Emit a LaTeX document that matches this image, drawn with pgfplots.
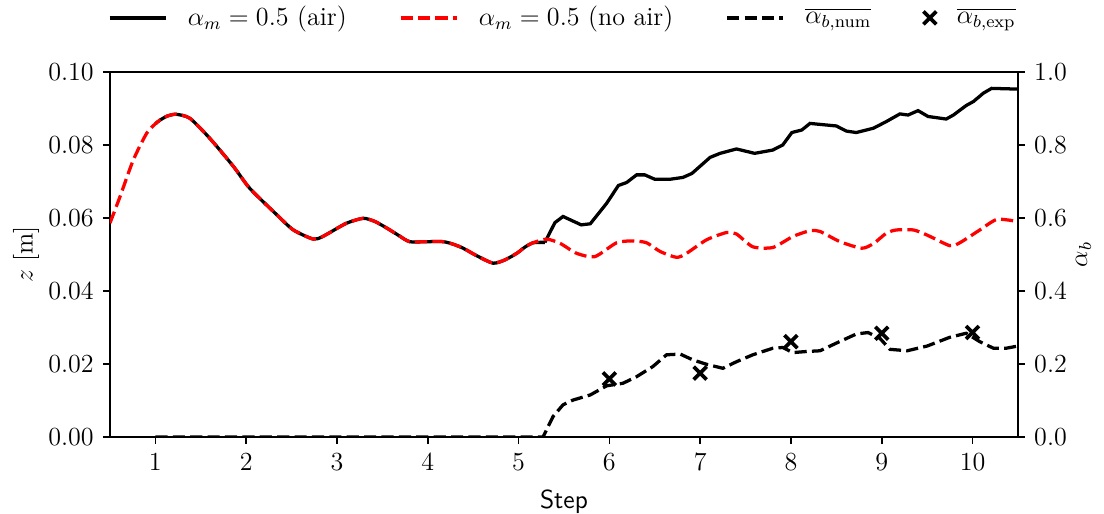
\documentclass[12pt,border=0pt]{standalone}
\usepackage{pgfplots}
\pgfplotsset{compat=1.18}

\pgfplotsset{
  common/.style={
    scale only axis,
    width=417.7pt, height=167.9pt,
    xmin=0.5, xmax=10.5,
    tick align=outside,
    major tick length=3.3pt,
    every tick/.style={black, line width=0.7pt},
    axis line style={line width=0.7pt},
  },
  dashed line/.style={dash pattern=on 5.6pt off 2.4pt},
  lineleg/.style={legend image code/.code={\draw[##1] (0pt,0pt) -- (25.8pt,0pt);}},
  markleg/.style={legend image code/.code={\draw[mark repeat=2,mark phase=2,##1] plot coordinates {(0pt,0pt)(12.9pt,0pt)(25.8pt,0pt)};}},
}

\begin{document}
\begin{tikzpicture}
\path[use as bounding box] (-50.6pt,-35.4pt) rectangle (457.3pt,201pt);

\begin{axis}[
    common,
    ymin=0, ymax=0.1,
    xtick={1,2,3,4,5,6,7,8,9,10},
    ytick={0,0.02,0.04,0.06,0.08,0.1},
    xtick pos=bottom, ytick pos=left,
    yticklabel style={/pgf/number format/.cd, fixed, fixed zerofill, precision=2},
    xlabel={\textsf{Step}},
    xlabel style={yshift=-1pt},
    ylabel={$z$ [m]},
    ylabel style={yshift=-4pt},
]
% alpha_m = 0.5 (air), part shared with the no-air run
\addplot[black, line width=1.5pt, smooth, tension=0.4] coordinates {
  (1.0,0.0858) (1.05,0.0868) (1.13,0.0879) (1.227,0.0884) (1.38,0.0873)
  (1.6,0.0818) (1.86,0.0741) (2.04,0.0681) (2.34,0.0608) (2.52,0.0567)
  (2.74,0.0542) (2.85,0.0550) (3.1,0.0585) (3.29,0.0599) (3.42,0.0590)
  (3.55,0.0572) (3.68,0.0552) (3.80,0.0535) (4.0,0.0535) (4.17,0.0535)
  (4.28,0.0528) (4.39,0.0517) (4.55,0.0495) (4.72,0.0476) (4.85,0.0485)
  (4.98,0.0503) (5.07,0.0520) (5.16,0.0532) (5.29,0.0533)
};
\addplot[black, line width=1.5pt] coordinates {
  (5.29,0.0533) (5.40,0.0587) (5.49,0.0604) (5.69,0.0581) (5.79,0.0584)
  (5.97,0.0640) (6.10,0.0689) (6.19,0.0697) (6.30,0.0718) (6.39,0.0718)
  (6.50,0.0706) (6.67,0.0706) (6.81,0.0711) (6.91,0.0722) (7.11,0.0766)
  (7.22,0.0777) (7.40,0.0789) (7.60,0.0777) (7.80,0.0786) (7.91,0.0800)
  (8.01,0.0834) (8.12,0.0841) (8.21,0.0859) (8.50,0.0852) (8.61,0.0838)
  (8.72,0.0834) (8.91,0.0846) (9.05,0.0864) (9.20,0.0885) (9.29,0.0882)
  (9.40,0.0894) (9.51,0.0878) (9.71,0.0871) (9.79,0.0882) (9.93,0.0908)
  (10.01,0.0919) (10.12,0.0942) (10.21,0.0955) (10.50,0.0953)
};
% alpha_m = 0.5 (no air)
\addplot[red, line width=1.5pt, dashed line, smooth, tension=0.4] coordinates {
  (0.5,0.0586) (0.61,0.0658) (0.757,0.0759) (0.904,0.0832) (1.0,0.0858)
  (1.05,0.0868) (1.13,0.0879) (1.227,0.0884) (1.38,0.0873)
  (1.6,0.0818) (1.86,0.0741) (2.04,0.0681) (2.34,0.0608) (2.52,0.0567)
  (2.74,0.0542) (2.85,0.0550) (3.1,0.0585) (3.29,0.0599) (3.42,0.0590)
  (3.55,0.0572) (3.68,0.0552) (3.80,0.0535) (4.0,0.0535) (4.17,0.0535)
  (4.28,0.0528) (4.39,0.0517) (4.55,0.0495) (4.72,0.0476) (4.85,0.0485)
  (4.98,0.0503) (5.07,0.0520) (5.16,0.0532) (5.31,0.0542) (5.46,0.0530)
  (5.64,0.0503) (5.84,0.0494) (6.08,0.0532) (6.26,0.0537) (6.41,0.0532)
  (6.56,0.0508) (6.74,0.0492) (6.85,0.0503) (7.07,0.0540) (7.29,0.0560)
  (7.40,0.0556) (7.58,0.0521) (7.80,0.0519) (8.02,0.0549) (8.21,0.0565)
  (8.32,0.0563) (8.54,0.0535) (8.78,0.0517) (8.91,0.0530) (9.05,0.0558)
  (9.16,0.0567) (9.35,0.0567) (9.50,0.0553) (9.75,0.0524) (9.86,0.0532)
  (10.08,0.0567) (10.27,0.0596) (10.50,0.0590)
};
\end{axis}

\begin{axis}[
    common,
    ymin=0, ymax=1,
    ytick={0,0.2,0.4,0.6,0.8,1.0},
    hide x axis,
    axis y line*=right,
    yticklabel style={/pgf/number format/.cd, fixed, fixed zerofill, precision=1},
    ylabel={$\alpha_b$},
    ylabel style={yshift=4pt},
    legend columns=4,
    legend style={at={(0.5,1.148)}, anchor=center, draw=none, fill=none,
      /tikz/every odd column/.append style={column sep=7.5pt},
      /tikz/every even column/.append style={column sep=22pt}},
]
\addlegendimage{black, line width=1.5pt, lineleg}
\addlegendentry{$\alpha_m = 0.5$ (air)}
\addlegendimage{red, line width=1.5pt, dashed line, lineleg}
\addlegendentry{$\alpha_m = 0.5$ (no air)}
% mean alpha_b, numerical
\addplot[black, line width=1.5pt, dashed line, lineleg] coordinates {
  (1.0,0) (5.27,0) (5.38,0.056) (5.49,0.088) (5.60,0.101) (5.79,0.115)
  (5.97,0.140) (6.15,0.147) (6.30,0.165) (6.48,0.193) (6.63,0.225)
  (6.78,0.227) (6.92,0.211) (7.07,0.199) (7.25,0.188) (7.40,0.206)
  (7.58,0.225) (7.80,0.243) (7.91,0.245) (8.02,0.231) (8.17,0.234)
  (8.32,0.236) (8.50,0.257) (8.72,0.282) (8.85,0.286) (8.98,0.270)
  (9.09,0.240) (9.28,0.236) (9.50,0.249) (9.75,0.273) (9.93,0.284)
  (10.08,0.261) (10.23,0.243) (10.37,0.243) (10.50,0.249)
};
\addlegendentry{$\overline{\alpha_{b,\mathrm{num}}}$}
% mean alpha_b, experiment
\addplot[only marks, mark=x, mark size=4.2pt, black, line width=1.7pt, markleg] coordinates {
  (6,0.159) (7,0.175) (8,0.261) (9,0.284) (10,0.286)
};
\addlegendentry{$\overline{\alpha_{b,\mathrm{exp}}}$}
\end{axis}
\end{tikzpicture}
\end{document}
